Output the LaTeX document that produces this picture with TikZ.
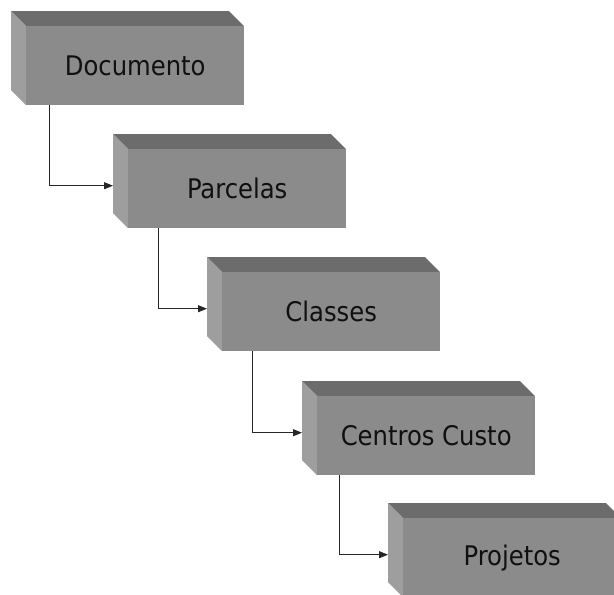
\documentclass[tikz,border=0pt]{standalone}
\usepackage{fontspec}
\setmainfont{DejaVu Sans Condensed}
\usetikzlibrary{arrows.meta,calc}
\definecolor{frontc}{RGB}{139,139,139}
\definecolor{topc}{RGB}{108,108,108}
\definecolor{leftc}{RGB}{158,158,158}
\definecolor{textc}{RGB}{16,16,16}
\tikzset{
  frontbox/.style={rectangle, fill=frontc, draw=none, anchor=north west,
    minimum width=218pt, minimum height=79pt, inner sep=0pt,
    font=\fontsize{27}{30}\selectfont, text=textc},
  topface/.style={fill=topc, draw=none},
  leftface/.style={fill=leftc, draw=none},
  conn/.style={draw=black!85, line width=0.9pt, -{Triangle[length=9pt,width=7pt]}}
}
\newcommand{\threedbox}[4]{%
  % #1 name, #2 x, #3 y (front face top-left, image coords), #4 text
  \fill[topface] (#2-15,#3-15) -- (#2+203,#3-15) -- (#2+218,#3) -- (#2,#3) -- cycle;
  \fill[leftface] (#2-15,#3-15) -- (#2,#3) -- (#2,#3+79) -- (#2-15,#3+64) -- cycle;
  \node[frontbox] (#1) at (#2,#3) {#4};
}
\begin{document}
\begin{tikzpicture}[x=1pt,y=-1pt]
\useasboundingbox (0,0) rectangle (614,595);
\fill[white] (0,0) rectangle (614,595);
\clip (0,0) rectangle (614,595);
\threedbox{b1}{26}{26}{Documento}
\threedbox{b2}{128}{149}{Parcelas}
\threedbox{b3}{222}{272}{Classes}
\threedbox{b4}{317}{396}{Centros Custo}
\threedbox{b5}{403}{518}{Projetos}
\draw[conn] ($(b1.south west)+(23,0)$) |- ($(b2.west)+(-15,-3)$);
\draw[conn] ($(b2.south west)+(30,0)$) |- ($(b3.west)+(-15,-3)$);
\draw[conn] ($(b3.south west)+(30,0)$) |- ($(b4.west)+(-15,-3)$);
\draw[conn] ($(b4.south west)+(22,0)$) |- ($(b5.west)+(-15,-3)$);
\end{tikzpicture}
\end{document}
